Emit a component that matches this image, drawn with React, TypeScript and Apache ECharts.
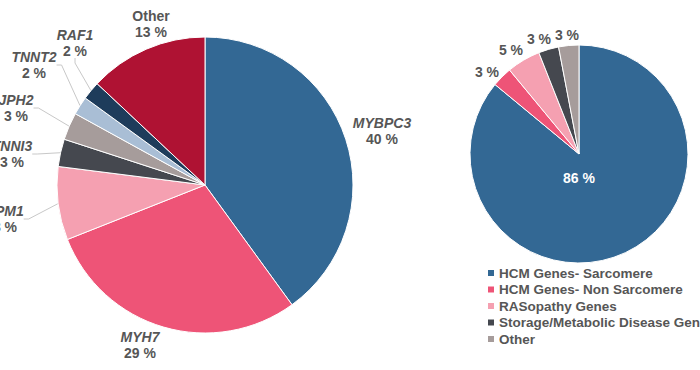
import React, { useEffect, useRef } from 'react';
import * as echarts from 'echarts';

// ---- data ----
const geneNames = ['MYBPC3', 'MYH7', 'TPM1', 'TNNI3', 'JPH2', 'TNNT2', 'RAF1', 'Other'];
const genePercents = [40, 29, 8, 3, 3, 2, 2, 13];
const groupNames = [
  'HCM Genes- Sarcomere',
  'HCM Genes- Non Sarcomere',
  'RASopathy Genes',
  'Storage/Metabolic Disease Genes',
  'Other',
];
const groupPercents = [86, 3, 5, 3, 3];

// ---- styles / layout ----
const geneColors = ['#336894', '#EE5477', '#F5A0B1', '#45484F', '#A69C9B', '#A9BED5', '#1E3C5B', '#AF1233'];
const groupColors = ['#336894', '#EE5477', '#F5A0B1', '#45484F', '#A69C9B'];
const geneLabelCenters = [[382, 131], [140, 345], [5, 219], [12, 154], [16, 108], [34, 65], [75, 43], [151, 24]];
const groupLabelCenters = [[579, 178], [487, 72], [511, 50], [539, 39], [567, 35]];
const geneHasLeader = [false, false, true, true, true, true, true, false];
const FONT = "'Liberation Sans', Arial, sans-serif";
const TEXT = '#565656';

export default function App() {
  const ref = useRef<HTMLDivElement>(null);
  useEffect(() => {
    if (!ref.current) return;
    const chart = echarts.init(ref.current, undefined, { renderer: 'svg' });
    const base = { fontFamily: FONT, fontWeight: 'bold', fontSize: 14, color: TEXT, lineHeight: 16, align: 'center' };
    chart.setOption({
      animation: false,
      backgroundColor: '#ffffff',
      legend: {
        orient: 'vertical',
        left: 483,
        top: 261,
        icon: 'rect',
        itemWidth: 6,
        itemHeight: 6,
        itemGap: 2.5,
        selectedMode: false,
        itemStyle: { borderWidth: 0 },
        textStyle: { fontFamily: FONT, fontWeight: 'bold', fontSize: 13.5, color: TEXT, lineHeight: 14 },
        data: groupNames.map((n, i) => ({ name: n, itemStyle: { color: groupColors[i], borderWidth: 0 } })),
      },
      series: [
        {
          type: 'pie',
          center: [205, 185],
          radius: 148,
          startAngle: 90,
          clockwise: true,
          avoidLabelOverlap: false,
          silent: true,
          itemStyle: { borderColor: '#ffffff', borderWidth: 1 },
          label: {
            show: true,
            position: 'outside',
            formatter: (p: any) =>
              (p.name === 'Other' ? '{o|' + p.name + '}' : '{g|' + p.name + '}') + '\n{v|' + p.value + ' %}',
            rich: {
              g: { ...base, fontStyle: 'italic' },
              o: { ...base },
              v: { ...base },
            },
          },
          labelLine: { show: true, length: 10, length2: 5, smooth: false, lineStyle: { color: '#c8c8c8', width: 1 } },
          labelLayout: (params: any) => {
            const c = geneLabelCenters[params.dataIndex];
            return { x: c[0], y: c[1], align: 'center', verticalAlign: 'middle' };
          },
          data: geneNames.map((n, i) => ({
            name: n,
            value: genePercents[i],
            itemStyle: { color: geneColors[i] },
            labelLine: { show: geneHasLeader[i] },
          })),
        },
        {
          type: 'pie',
          center: [579, 154],
          radius: 109,
          startAngle: 90,
          clockwise: true,
          avoidLabelOverlap: false,
          silent: true,
          itemStyle: { borderColor: '#ffffff', borderWidth: 1 },
          label: {
            show: true,
            position: 'outside',
            formatter: (p: any) => p.value + ' %',
            fontFamily: FONT,
            fontWeight: 'bold',
            fontSize: 14,
            color: TEXT,
          },
          labelLine: { show: false, length: 8, length2: 0 },
          labelLayout: (params: any) => {
            const c = groupLabelCenters[params.dataIndex];
            return { x: c[0], y: c[1], align: 'center', verticalAlign: 'middle' };
          },
          data: groupNames.map((n, i) => ({
            name: n,
            value: groupPercents[i],
            itemStyle: { color: groupColors[i] },
            label: i === 0 ? { position: 'inside', color: '#ffffff' } : undefined,
          })),
        },
      ],
    });
    return () => chart.dispose();
  }, []);
  return (
    <div
      ref={ref}
      style={{ position: 'absolute', left: 0, top: 0, width: 700, height: 370, background: '#ffffff' }}
    />
  );
}
